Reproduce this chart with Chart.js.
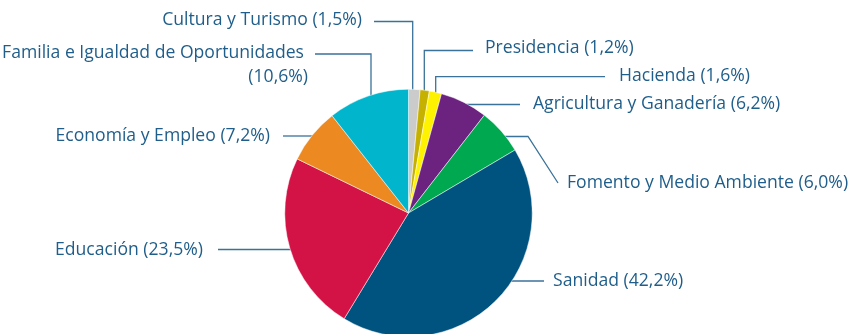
<!DOCTYPE html>
<html>
<head>
<meta charset="utf-8">
<script src="https://cdn.jsdelivr.net/npm/chart.js@4.4.1/dist/chart.umd.min.js"></script>
<style>
  html, body { margin: 0; padding: 0; background: #fff; }
  #wrap { width: 855px; height: 334px; overflow: hidden; position: relative; }
</style>
</head>
<body>
<div id="wrap"><canvas id="pieChart" width="855" height="340"></canvas></div>
<script>
// Reparto por consejerías (porcentaje)
const categories = [
    'Cultura y Turismo', 'Presidencia', 'Hacienda', 'Agricultura y Ganadería',
    'Fomento y Medio Ambiente', 'Sanidad', 'Educación', 'Economía y Empleo',
    'Familia e Igualdad de Oportunidades'
];
const shares = [1.5, 1.2, 1.6, 6.2, 6.0, 42.2, 23.5, 7.2, 10.6];
const sliceColors = [
    '#CBCBCB', '#C6B000', '#FFF200', '#6C2380', '#00A84F',
    '#00527F', '#D31245', '#EC8A21', '#00B5CC'
];

// label layout: where the text sits and the bend points of the leader line
// 'end' tells how the last segment reaches the pie: v = straight down, h = straight across
const labelLayout = [
    { x: 362, y: 20, align: 'right', pts: [[374, 21.5], [412.7, 21.5]], end: 'v' },
    { x: 485, y: 48, align: 'left', pts: [[473, 50.5], [424.3, 50.5]], end: 'v' },
    { x: 619, y: 76, align: 'left', pts: [[605, 76.7], [435.7, 76.7]], end: 'v' },
    { x: 533, y: 104, align: 'left', pts: [[520, 104.5]], end: 'h' },
    { x: 567, y: 183, align: 'left', pts: [[558, 183], [528, 136.5]], end: 'h' },
    { x: 553, y: 281, align: 'left', pts: [[544, 281]], end: 'h' },
    { x: 203, y: 249.5, align: 'right', pts: [[218, 249.5]], end: 'h' },
    { x: 270, y: 136, align: 'right', pts: [[283, 136]], end: 'h' },
    { x: 304, y: 53, align: 'right', pts: [[315, 54], [371, 54]], end: 'v', wrap: 308 }
];

function formatShare(v) {
    return '(' + v.toFixed(1).replace('.', ',') + '%)';
}

const leaderLabels = {
    id: 'leaderLabels',
    beforeDatasetsDraw(chart) {
        const arc = chart.getDatasetMeta(0).data[0];
        const cx = arc.x, cy = arc.y, r = arc.outerRadius;
        const ctx = chart.ctx;
        ctx.save();
        ctx.strokeStyle = '#3A7299';
        ctx.lineWidth = 1.3;
        labelLayout.forEach(item => {
            const pts = item.pts.slice();
            const last = pts[pts.length - 1];
            let endPt;
            if (item.end === 'v') {
                endPt = [last[0], cy - Math.sqrt(r * r - (last[0] - cx) * (last[0] - cx)) + 2];
            } else {
                const dx = Math.sqrt(r * r - (last[1] - cy) * (last[1] - cy)) - 2;
                endPt = [last[0] > cx ? cx + dx : cx - dx, last[1]];
            }
            pts.push(endPt);
            ctx.beginPath();
            ctx.moveTo(pts[0][0], pts[0][1]);
            for (let i = 1; i < pts.length; i++) ctx.lineTo(pts[i][0], pts[i][1]);
            ctx.stroke();
        });
        ctx.restore();
    },
    afterDatasetsDraw(chart) {
        const ctx = chart.ctx;
        ctx.save();
        ctx.fillStyle = '#1F5E8A';
        ctx.font = '17.6px "Open Sans", sans-serif';
        ctx.textBaseline = 'middle';
        labelLayout.forEach((item, i) => {
            ctx.textAlign = item.align;
            if (item.wrap) {
                ctx.fillText(categories[i], item.x, item.y);
                ctx.fillText(formatShare(shares[i]), item.wrap, item.y + 24);
            } else {
                ctx.fillText(categories[i] + ' ' + formatShare(shares[i]), item.x, item.y);
            }
        });
        ctx.restore();
    }
};

const ctx = document.getElementById('pieChart').getContext('2d');
new Chart(ctx, {
    type: 'pie',
    data: {
        labels: categories,
        datasets: [{
            data: shares,
            backgroundColor: sliceColors,
            borderColor: '#ffffff',
            borderWidth: 0.5
        }]
    },
    options: {
        responsive: false,
        animation: false,
        layout: { padding: { top: 89, bottom: 3, left: 284, right: 322 } },
        plugins: {
            legend: { display: false },
            tooltip: { enabled: false }
        }
    },
    plugins: [leaderLabels]
});
</script>
</body>
</html>
